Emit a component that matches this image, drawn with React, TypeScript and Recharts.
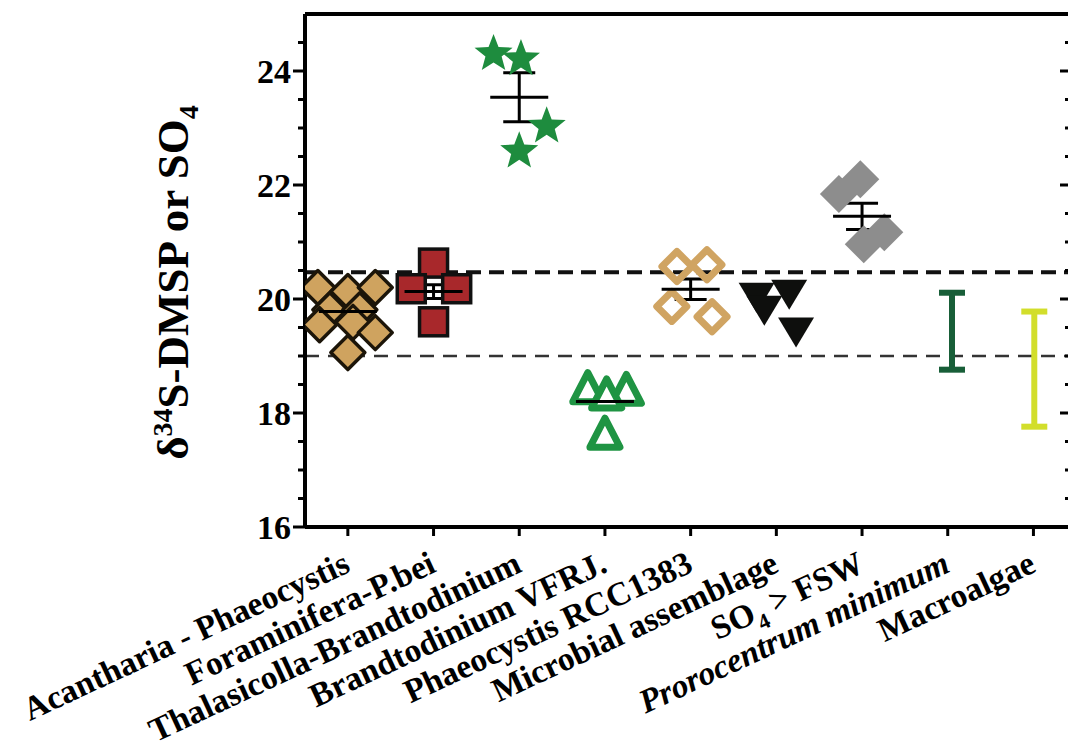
import { ScatterChart, Scatter, XAxis, YAxis, ErrorBar, ReferenceLine } from "recharts";

const categories = [
  "Acantharia - Phaeocystis",
  "Foraminifera-P.bei",
  "Thalasicolla-Brandtodinium",
  "Brandtodinium VFRJ.",
  "Phaeocystis RCC1383",
  "Microbial assemblage",
  "SO4 > FSW",
  "Prorocentrum minimum",
  "Macroalgae",
];

// individual measurements (d34S) and their horizontal jitter within the category
const acanthariaVals = [20.2, 20.13, 20.2, 19.81, 19.81, 19.55, 19.59, 19.41, 19.06];
const acanthariaJit = [-0.35, 0.0, 0.32, -0.21, 0.14, -0.33, 0.06, 0.32, 0.0];
const foraminiferaVals = [20.63, 20.18, 20.18, 19.6];
const foraminiferaJit = [0.0, -0.26, 0.27, 0.0];
const thalassicollaVals = [24.3, 24.21, 23.03, 22.59];
const thalassicollaJit = [-0.3, 0.02, 0.32, 0.0];
const brandtodiniumVals = [18.41, 18.38, 18.3, 17.61];
const brandtodiniumJit = [-0.2, 0.25, 0.02, 0.0];
const phaeocystisVals = [20.57, 20.6, 19.87, 19.69];
const phaeocystisJit = [-0.16, 0.19, -0.22, 0.25];
const microbialVals = [20.04, 20.09, 19.81, 19.43];
const microbialJit = [-0.23, 0.15, -0.14, 0.23];
const so4Vals = [21.84, 22.1, 20.96, 21.17];
const so4Jit = [-0.27, -0.02, 0.02, 0.26];

// group means +- standard error
const meanCats = [0, 1, 2, 3, 4, 6];
const meanVals = [19.78, 20.13, 23.54, 18.2, 20.17, 21.45];
const meanSE = [0.12, 0.12, 0.43, 0.08, 0.18, 0.23];

// literature ranges
const prorocentrumRange = [18.76, 20.11];
const macroalgaeRange = [17.76, 19.78];

const seawaterLines = [20.47, 19.0];

const xTicks = [0, 1, 2, 3, 4, 5, 6, 7, 8];
const yTicks = [16, 16.5, 17, 17.5, 18, 18.5, 19, 19.5, 20, 20.5, 21, 21.5, 22, 22.5, 23, 23.5, 24, 24.5];
const yLabels = [16, 18, 20, 22, 24];

const FONT = "'Liberation Serif', 'Times New Roman', serif";

const pts = (cat: number, vals: number[], jit: number[]) =>
  vals.map((v, i) => ({ x: cat + jit[i], y: v }));

const meanData = meanCats.map((c, i) => ({ x: c, y: meanVals[i], se: meanSE[i] }));
const rangeData = (cat: number, r: number[], off: number) => [
  { x: cat + off, y: (r[0] + r[1]) / 2, err: (r[1] - r[0]) / 2 },
];

const FilledDiamond = ({ cx, cy }: any) => (
  <polygon
    points={`${cx},${cy - 17} ${cx + 17},${cy} ${cx},${cy + 17} ${cx - 17},${cy}`}
    fill="#cfa35f"
    stroke="#1c1509"
    strokeWidth={3.5}
    strokeLinejoin="round"
  />
);
const RedSquare = ({ cx, cy }: any) => (
  <rect x={cx - 14} y={cy - 14} width={28} height={28} fill="#a8282b" stroke="#111" strokeWidth={3.5} />
);
const Star = ({ cx, cy }: any) => {
  const p: string[] = [];
  for (let i = 0; i < 10; i++) {
    const r = i % 2 === 0 ? 20 : 8.5;
    const a = -Math.PI / 2 + (i * Math.PI) / 5;
    p.push(`${cx + r * Math.cos(a)},${cy + r * Math.sin(a)}`);
  }
  return <polygon points={p.join(" ")} fill="#1e8c3e" />;
};
const OpenTriangle = ({ cx, cy }: any) => (
  <polygon
    points={`${cx},${cy - 17} ${cx + 15},${cy + 12} ${cx - 15},${cy + 12}`}
    fill="#fff"
    stroke="#1f9443"
    strokeWidth={7}
    strokeLinejoin="round"
  />
);
const OpenDiamond = ({ cx, cy }: any) => (
  <polygon
    points={`${cx},${cy - 15} ${cx + 15},${cy} ${cx},${cy + 15} ${cx - 15},${cy}`}
    fill="none"
    stroke="#d0a462"
    strokeWidth={7}
    strokeLinejoin="round"
  />
);
const DownTriangle = ({ cx, cy }: any) => (
  <polygon points={`${cx - 18},${cy - 14} ${cx + 18},${cy - 14} ${cx},${cy + 16}`} fill="#0e0f0d" />
);
const GrayDiamond = ({ cx, cy }: any) => (
  <polygon
    points={`${cx},${cy - 19} ${cx + 19},${cy} ${cx},${cy + 19} ${cx - 19},${cy}`}
    fill="#8d8d8d"
    strokeLinejoin="round"
  />
);
const MeanLine = ({ cx, cy }: any) => (
  <line x1={cx - 29} x2={cx + 29} y1={cy} y2={cy} stroke="#000" strokeWidth={3} />
);
const Nothing = () => <g />;

const LeftTick = ({ x, y, payload }: any) => {
  const major = yLabels.includes(payload.value);
  return (
    <g>
      <line x1={x} x2={x - (major ? 12 : 7)} y1={y} y2={y} stroke="#000" strokeWidth={3} />
      {major && (
        <text x={x - 14} y={y} dy="0.36em" textAnchor="end" fontFamily={FONT} fontWeight="bold" fontSize={34} fill="#000">
          {payload.value}
        </text>
      )}
    </g>
  );
};

const RightTick = ({ x, y, payload }: any) => {
  const major = yLabels.includes(payload.value);
  return <line x1={x} x2={x - (major ? 12 : 7)} y1={y} y2={y} stroke="#000" strokeWidth={3} />;
};

const BottomTick = ({ x, y, payload }: any) => {
  const name = categories[payload.value];
  const ax = x + 4;
  const ay = y + 44;
  let content: any = name;
  if (name.startsWith("SO4")) {
    content = (
      <>
        SO
        <tspan dy={10} fontSize={22}>4</tspan>
        <tspan dy={-10}> &gt; FSW</tspan>
      </>
    );
  }
  return (
    <g>
      <line x1={x} x2={x} y1={y} y2={y + 9} stroke="#000" strokeWidth={3} />
      <text
        x={ax}
        y={ay}
        textAnchor="end"
        transform={`rotate(-25, ${ax}, ${ay})`}
        fontFamily={FONT}
        fontWeight="bold"
        fontStyle={name.startsWith("Prorocentrum") ? "italic" : "normal"}
        fontSize={33.5}
        fill="#000"
      >
        {content}
      </text>
    </g>
  );
};

const YTitle = ({ viewBox }: any) => {
  const cx = viewBox.x + 172;
  const cy = viewBox.y + viewBox.height / 2 + 12;
  return (
    <text
      x={cx}
      y={cy}
      textAnchor="middle"
      transform={`rotate(-90, ${cx}, ${cy})`}
      fontFamily={FONT}
      fontWeight="bold"
      fontSize={45}
      fill="#000"
      dy="0.35em"
    >
      δ<tspan dy={-16} fontSize={28}>34</tspan>
      <tspan dy={16}>S-DMSP or SO</tspan>
      <tspan dy={10} fontSize={28}>4</tspan>
    </text>
  );
};

export default function App() {
  return (
    <div style={{ position: "fixed", left: 0, top: 0, width: 1068, height: 753, overflow: "hidden", background: "#fff" }}>
      <ScatterChart width={1080} height={753} margin={{ top: 14, right: 8, bottom: 0, left: 0 }}>
        <XAxis
          xAxisId="b"
          type="number"
          dataKey="x"
          domain={[-0.5, 8.45]}
          ticks={xTicks}
          interval={0}
          height={226}
          tickSize={0}
          tickMargin={0}
          tickLine={false}
          tick={<BottomTick />}
          axisLine={{ stroke: "#000", strokeWidth: 4 }}
          allowDataOverflow
        />
        <XAxis
          xAxisId="t"
          orientation="top"
          type="number"
          dataKey="x"
          domain={[-0.5, 8.45]}
          ticks={xTicks}
          interval={0}
          height={1}
          mirror
          tickSize={9}
          tick={false}
          tickLine={{ stroke: "#000", strokeWidth: 3 }}
          axisLine={{ stroke: "#000", strokeWidth: 4 }}
          allowDataOverflow
        />
        <YAxis
          yAxisId="l"
          type="number"
          dataKey="y"
          domain={[16, 25]}
          ticks={yTicks}
          interval={0}
          width={305}
          tickSize={0}
          tickMargin={0}
          tickLine={false}
          tick={<LeftTick />}
          axisLine={{ stroke: "#000", strokeWidth: 4 }}
          label={{ content: <YTitle /> }}
          allowDataOverflow
        />
        <YAxis
          yAxisId="r"
          orientation="right"
          type="number"
          dataKey="y"
          domain={[16, 25]}
          ticks={yTicks}
          interval={0}
          width={1}
          mirror
          tickSize={0}
          tickMargin={0}
          tickLine={false}
          tick={<RightTick />}
          axisLine={{ stroke: "#000", strokeWidth: 4 }}
          allowDataOverflow
        />

        <ReferenceLine xAxisId="b" yAxisId="l" y={seawaterLines[0]} stroke="#111" strokeWidth={4} strokeDasharray="15 8" />
        <ReferenceLine xAxisId="b" yAxisId="l" y={seawaterLines[1]} stroke="#333" strokeWidth={2.5} strokeDasharray="14 9" />

        <Scatter xAxisId="b" yAxisId="l" data={pts(0, acanthariaVals, acanthariaJit)} shape={FilledDiamond} isAnimationActive={false} />
        <Scatter xAxisId="b" yAxisId="l" data={pts(1, foraminiferaVals, foraminiferaJit)} shape={RedSquare} isAnimationActive={false} />
        <Scatter xAxisId="b" yAxisId="l" data={pts(2, thalassicollaVals, thalassicollaJit)} shape={Star} isAnimationActive={false} />
        <Scatter xAxisId="b" yAxisId="l" data={pts(3, brandtodiniumVals, brandtodiniumJit)} shape={OpenTriangle} isAnimationActive={false} />
        <Scatter xAxisId="b" yAxisId="l" data={pts(4, phaeocystisVals, phaeocystisJit)} shape={OpenDiamond} isAnimationActive={false} />
        <Scatter xAxisId="b" yAxisId="l" data={pts(5, microbialVals, microbialJit)} shape={DownTriangle} isAnimationActive={false} />
        <Scatter xAxisId="b" yAxisId="l" data={pts(6, so4Vals, so4Jit)} shape={GrayDiamond} isAnimationActive={false} />

        <Scatter xAxisId="b" yAxisId="l" data={meanData} shape={MeanLine} isAnimationActive={false}>
          <ErrorBar dataKey="se" direction="y" width={16} stroke="#000" strokeWidth={3} />
        </Scatter>
        <Scatter xAxisId="b" yAxisId="l" data={rangeData(7, prorocentrumRange, 0.05)} shape={Nothing} isAnimationActive={false}>
          <ErrorBar dataKey="err" direction="y" width={13} stroke="#185e38" strokeWidth={6} />
        </Scatter>
        <Scatter xAxisId="b" yAxisId="l" data={rangeData(8, macroalgaeRange, 0.01)} shape={Nothing} isAnimationActive={false}>
          <ErrorBar dataKey="err" direction="y" width={13} stroke="#d2de2b" strokeWidth={6} />
        </Scatter>
      </ScatterChart>
    </div>
  );
}
